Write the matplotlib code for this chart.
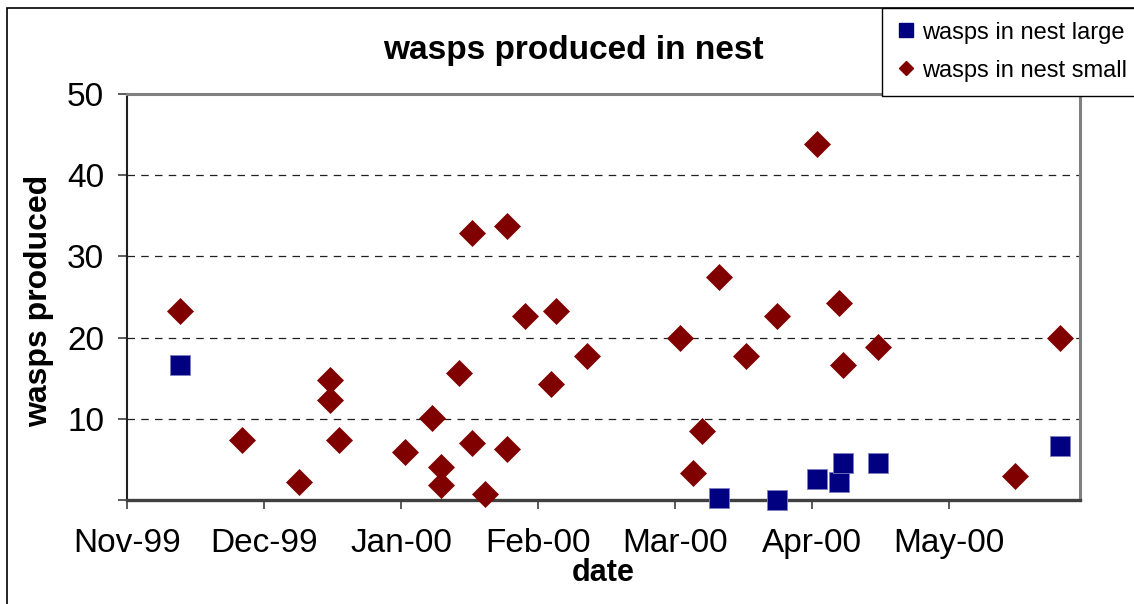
import pandas as pd
import numpy as np
import matplotlib
matplotlib.use("Agg")
import matplotlib.pyplot as plt
import matplotlib.dates as mdates
import matplotlib.ticker as mticker
from matplotlib.patches import Rectangle
from matplotlib.lines import Line2D

plt.rcParams["font.family"] = ["Liberation Sans", "DejaVu Sans"]

# large nests
large_dates = ["1999-11-13", "2000-03-14", "2000-03-27", "2000-04-05",
               "2000-04-10", "2000-04-11", "2000-04-19", "2000-05-30"]
large_wasps = [16.6, 0.3, 0.0, 2.6, 2.2, 4.5, 4.5, 6.7]

# small nests
small_dates = ["1999-11-13", "1999-11-27", "1999-12-10", "1999-12-17",
               "1999-12-17", "1999-12-19", "2000-01-03", "2000-01-09",
               "2000-01-11", "2000-01-11", "2000-01-15", "2000-01-18",
               "2000-01-18", "2000-01-21", "2000-01-26", "2000-01-26",
               "2000-01-30", "2000-02-06", "2000-02-05", "2000-02-13",
               "2000-03-05", "2000-03-08", "2000-03-10", "2000-03-14",
               "2000-03-20", "2000-03-27", "2000-04-05", "2000-04-10",
               "2000-04-11", "2000-04-19", "2000-05-20", "2000-05-30"]
small_wasps = [23.3, 7.4, 2.2, 14.8,
               12.3, 7.4, 5.9, 10.1,
               4.1, 1.8, 15.6, 32.9,
               7.0, 0.7, 33.7, 6.3,
               22.6, 23.3, 14.3, 17.7,
               20.0, 3.3, 8.5, 27.5,
               17.7, 22.6, 43.8, 24.2,
               16.6, 18.9, 2.9, 20.0]

y_ticks = [10, 20, 30, 40, 50]
x_start = pd.Timestamp("1999-11-01")
x_ticks = pd.date_range(x_start, periods=7, freq="31D")   # date axis, 31-day major unit
x_end = x_start + pd.Timedelta(days=215.6)

large_dates = pd.to_datetime(large_dates)
small_dates = pd.to_datetime(small_dates)

NAVY = "#000080"
MAROON = "#800000"

W, H = 1134, 604
fig = plt.figure(figsize=(W / 100, H / 100), dpi=100)
ax = fig.add_axes([127 / W, 1 - 500 / H, (1080 - 127) / W, (500 - 94) / H])

# outer chart frame
fig.add_artist(Rectangle((7 / W, -0.1), 1.2, 1 - 7.5 / H + 0.1, transform=fig.transFigure,
                         fill=False, edgecolor="black", linewidth=1.2, zorder=0))

ax.plot(small_dates, small_wasps, linestyle="none", marker="D", markersize=13.7,
        color=MAROON, markeredgecolor=MAROON, markeredgewidth=0.5, zorder=3, clip_on=False)
ax.plot(large_dates, large_wasps, linestyle="none", marker="s", markersize=15,
        color=NAVY, markeredgecolor="#8080c0", markeredgewidth=0.6, zorder=4, clip_on=False)

ax.set_ylim(0, 50)
ax.set_yticks(y_ticks)
ax.yaxis.set_minor_locator(mticker.FixedLocator([0]))
ax.set_xlim(x_start, x_end)
ax.set_xticks(x_ticks)
ax.xaxis.set_major_formatter(mdates.DateFormatter("%b-%y"))

for y in [10, 20, 30, 40]:
    ax.axhline(y, color="#202020", linewidth=0.9, linestyle=(0, (6, 5)), zorder=1)

for side in ["top", "right"]:
    ax.spines[side].set_color("#808080")
    ax.spines[side].set_linewidth(2.2)
ax.spines["left"].set_color("#202020")
ax.spines["left"].set_linewidth(1.5)
ax.spines["bottom"].set_color("#404040")
ax.spines["bottom"].set_linewidth(2.4)

ax.tick_params(axis="both", which="both", direction="out", length=6.5, width=1.2,
               color="#404040", labelsize=24)
ax.tick_params(axis="y", pad=10)
ax.tick_params(axis="x", pad=14)

ax.set_xlabel("date", fontsize=22, fontweight="bold")
ax.xaxis.set_label_coords(0.5, (500 - 558) / 406)
ax.set_ylabel("wasps produced", fontsize=23, fontweight="bold")
ax.yaxis.set_label_coords((54 - 127) / 953, 0.49)

fig.text(573 / W, 1 - 50 / H, "wasps produced in nest", ha="center", va="center",
         fontsize=24, fontweight="bold")

# legend box running off the right edge
fig.add_artist(Rectangle((882 / W, 1 - 96 / H), 0.3, (96 - 8) / H, transform=fig.transFigure,
                         facecolor="white", edgecolor="black", linewidth=1.0, zorder=5))
legend_items = [("wasps in nest large", "s", 10, NAVY, 30),
                ("wasps in nest small", "D", 7.6, MAROON, 68)]
for label, marker, ms, color, ypix in legend_items:
    fig.add_artist(Line2D([906 / W], [1 - ypix / H], transform=fig.transFigure,
                          linestyle="none", marker=marker, markersize=ms, color=color, zorder=6))
    fig.text(922 / W, 1 - ypix / H, label, ha="left", va="center_baseline",
             fontsize=17, zorder=6)

fig.savefig("out.png", dpi=100)
